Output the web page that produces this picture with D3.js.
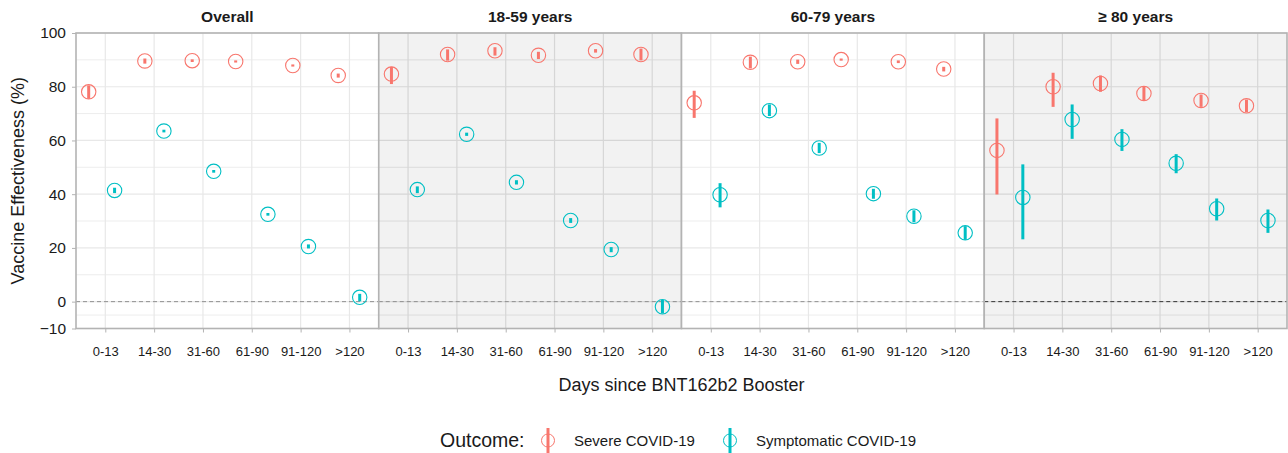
<!DOCTYPE html>
<html>
<head>
<meta charset="utf-8">
<script src="https://cdn.jsdelivr.net/npm/d3@7/dist/d3.min.js"></script>
<style>
  body { margin: 0; background: #fff; }
  svg { font-family: "Liberation Sans", Arial, sans-serif; }
</style>
</head>
<body>
<svg id="chart" width="1288" height="453"></svg>
<script>
// categories and panels
const days = ['0-13', '14-30', '31-60', '61-90', '91-120', '>120'];
const panels = ['Overall', '18-59 years', '60-79 years', '\u2265 80 years'];
const yTicks = [-10, 0, 20, 40, 60, 80, 100];
const yMinor = [-5, 10, 30, 50, 70, 90];

// Severe COVID-19 (one row per panel)
const severeVE = [
  [78.1, 89.6, 89.7, 89.4, 87.9, 84.2],
  [84.7, 92.0, 93.4, 91.7, 93.4, 92.0],
  [74.0, 89.1, 89.3, 90.1, 89.3, 86.6],
  [56.3, 80.0, 81.2, 77.5, 74.9, 72.9]
];
const severeLo = [
  [75.5, 88.6, 89.2, 89.0, 87.5, 83.4],
  [81.0, 89.7, 91.6, 90.3, 92.7, 89.8],
  [68.4, 86.8, 88.5, 89.7, 88.8, 85.7],
  [39.9, 72.5, 78.1, 75.0, 72.5, 70.5]
];
const severeHi = [
  [80.5, 90.5, 90.2, 89.8, 88.3, 84.9],
  [87.4, 93.9, 94.7, 93.0, 94.0, 94.2],
  [78.5, 91.2, 90.1, 90.5, 89.8, 87.4],
  [68.2, 85.2, 84.2, 80.2, 77.1, 75.2]
];

// Symptomatic COVID-19
const symptVE = [
  [41.4, 63.5, 48.5, 32.5, 20.5, 1.6],
  [41.7, 62.3, 44.4, 30.2, 19.4, -1.9],
  [39.8, 71.1, 57.2, 40.2, 31.8, 25.6],
  [38.8, 67.8, 60.4, 51.5, 34.6, 30.2]
];
const symptLo = [
  [40.4, 63.0, 48.0, 32.0, 19.8, 0.1],
  [40.4, 61.7, 43.6, 29.3, 18.4, -4.4],
  [35.1, 69.1, 55.3, 38.3, 29.6, 23.0],
  [23.2, 60.6, 56.1, 47.8, 30.2, 25.6]
];
const symptHi = [
  [42.4, 64.0, 49.0, 33.0, 21.3, 2.9],
  [42.9, 62.9, 45.2, 31.1, 20.3, 0.6],
  [44.1, 73.4, 59.1, 42.0, 34.0, 28.1],
  [51.1, 73.4, 64.2, 54.9, 38.4, 34.3]
];

// horizontal jitter of each series, in category steps
const severeJitter = [-0.34, -0.19, -0.22, -0.33, -0.16, -0.23];
const symptJitter = [0.19, 0.20, 0.22, 0.33, 0.16, 0.21];

const series = [
  { name: 'Severe COVID-19', color: '#F8766D', ve: severeVE, lo: severeLo, hi: severeHi, jit: severeJitter },
  { name: 'Symptomatic COVID-19', color: '#00BFC4', ve: symptVE, lo: symptLo, hi: symptHi, jit: symptJitter }
];

const svg = d3.select('#chart');
const plotLeft = 76, plotRight = 1287, plotTop = 33, plotBottom = 328.5;
const pw = (plotRight - plotLeft) / panels.length;

const y = d3.scaleLinear().domain([-10, 100]).range([plotBottom, plotTop]);
const panelX = i => plotLeft + i * pw;

panels.forEach((title, p) => {
  const x0 = panelX(p);
  const x = d3.scalePoint().domain(days).range([x0, x0 + pw]).padding(0.6);
  const shaded = p % 2 === 1;
  const g = svg.append('g');

  g.append('rect')
    .attr('x', x0).attr('y', plotTop).attr('width', pw).attr('height', plotBottom - plotTop)
    .attr('fill', shaded ? '#f2f2f2' : '#ffffff');

  const gridCol = shaded ? '#d6d6d6' : '#e8e8e8';
  g.selectAll('.ymin').data(yMinor).join('line')
    .attr('x1', x0).attr('x2', x0 + pw)
    .attr('y1', d => y(d)).attr('y2', d => y(d))
    .attr('stroke', gridCol).attr('stroke-width', 0.8);
  g.selectAll('.ymaj').data(yTicks).join('line')
    .attr('x1', x0).attr('x2', x0 + pw)
    .attr('y1', d => y(d)).attr('y2', d => y(d))
    .attr('stroke', gridCol).attr('stroke-width', 1.2);
  g.selectAll('.xmaj').data(days).join('line')
    .attr('x1', d => x(d)).attr('x2', d => x(d))
    .attr('y1', plotTop).attr('y2', plotBottom)
    .attr('stroke', gridCol).attr('stroke-width', 1.2);

  // zero reference
  g.append('line')
    .attr('x1', x0).attr('x2', x0 + pw)
    .attr('y1', y(0)).attr('y2', y(0))
    .attr('stroke', p === 3 ? '#222' : '#888')
    .attr('stroke-width', 0.9)
    .attr('stroke-dasharray', '4,3');

  // points and error bars
  series.forEach(s => {
    days.forEach((d, i) => {
      const cx = x(d) + s.jit[i] * x.step();
      g.append('line')
        .attr('x1', cx).attr('x2', cx)
        .attr('y1', y(s.lo[p][i])).attr('y2', y(s.hi[p][i]))
        .attr('stroke', s.color).attr('stroke-width', 3);
      g.append('circle')
        .attr('cx', cx).attr('cy', y(s.ve[p][i])).attr('r', 7.2)
        .attr('fill', 'none').attr('stroke', s.color).attr('stroke-width', 1.1);
    });
  });

  // border
  g.append('rect')
    .attr('x', x0).attr('y', plotTop).attr('width', pw).attr('height', plotBottom - plotTop)
    .attr('fill', 'none').attr('stroke', '#b3b3b3').attr('stroke-width', 1.6);

  // x axis
  const xa = g.append('g').attr('transform', `translate(0,${plotBottom})`)
    .call(d3.axisBottom(x).tickSize(4).tickPadding(14));
  xa.select('.domain').remove();
  xa.selectAll('line').attr('stroke', '#b3b3b3');
  xa.selectAll('text').attr('font-size', 13).attr('fill', '#1a1a1a');
  xa.attr('font-family', null);

  // strip title
  g.append('text')
    .attr('x', x0 + pw / 2).attr('y', 22)
    .attr('text-anchor', 'middle').attr('font-weight', 'bold').attr('font-size', 15.5)
    .attr('fill', '#1a1a1a').text(title);
});

// y axis
const ya = svg.append('g').attr('transform', `translate(${plotLeft},0)`)
  .call(d3.axisLeft(y).tickValues(yTicks).tickSize(4).tickPadding(6));
ya.select('.domain').remove();
ya.selectAll('line').attr('stroke', '#b3b3b3');
ya.selectAll('text').attr('font-size', 15.5).attr('fill', '#1a1a1a');
ya.attr('font-family', null);

// axis titles
svg.append('text')
  .attr('transform', `translate(24,${(plotTop + plotBottom) / 2}) rotate(-90)`)
  .attr('text-anchor', 'middle').attr('font-size', 18).attr('fill', '#1a1a1a')
  .text('Vaccine Effectiveness (%)');
svg.append('text')
  .attr('x', (plotLeft + plotRight) / 2).attr('y', 391)
  .attr('text-anchor', 'middle').attr('font-size', 18).attr('fill', '#1a1a1a')
  .text('Days since BNT162b2 Booster');

// legend
const lg = svg.append('g');
lg.append('text').attr('x', 440).attr('y', 447).attr('font-size', 19.5).attr('fill', '#1a1a1a').text('Outcome:');
const keyX = [548, 730];
series.forEach((s, i) => {
  lg.append('line')
    .attr('x1', keyX[i]).attr('x2', keyX[i]).attr('y1', 428).attr('y2', 453)
    .attr('stroke', s.color).attr('stroke-width', 3);
  lg.append('circle')
    .attr('cx', keyX[i]).attr('cy', 440.5).attr('r', 6.5)
    .attr('fill', 'none').attr('stroke', s.color).attr('stroke-width', 1);
  lg.append('text')
    .attr('x', keyX[i] + 26).attr('y', 446).attr('font-size', 15).attr('fill', '#1a1a1a')
    .text(s.name);
});
</script>
</body>
</html>
